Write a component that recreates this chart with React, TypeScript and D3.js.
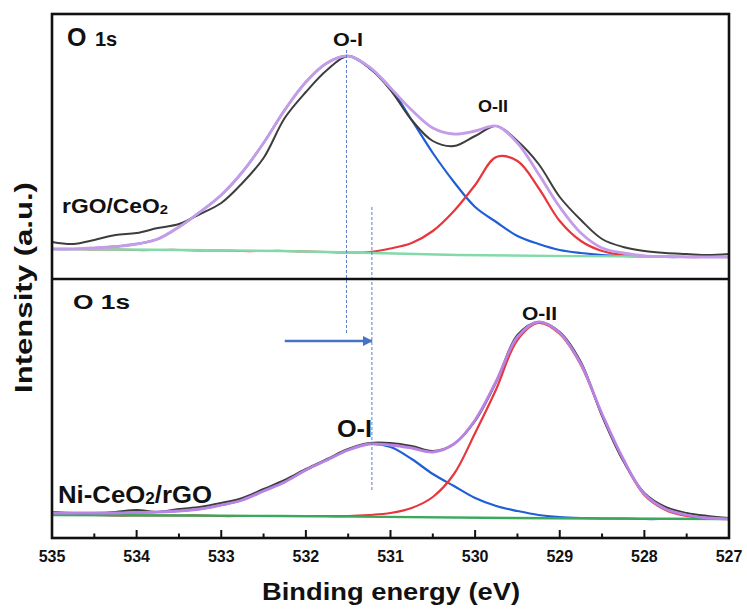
import React from "react";
import * as d3 from "d3";

// binding energy grid (eV) the curves were read on
const be = [
  535, 534.75, 534.5, 534.25, 534, 533.75, 533.5, 533.25, 533, 532.75, 532.5,
  532.25, 532, 531.75, 531.5, 531.25, 531, 530.75, 530.5, 530.25, 530,
  529.75, 529.5, 529.25, 529, 528.75, 528.5, 528.25, 528, 527.75, 527.5,
  527.25, 527,
];

// rGO/CeO2 (top panel), a.u.
const topRaw = [37, 35, 39, 44, 46, 51, 55, 65, 76, 96, 121, 161, 187, 209, 223, 211, 189, 159, 138, 133, 143, 153, 138, 115, 82, 59, 40, 32, 28, 26, 25, 24, 25];
const topEnvelope = [30, 30, 31, 32.5, 35, 40, 52, 67, 84, 107, 136, 169, 197, 216, 223, 212, 191, 169, 151, 145, 148, 153, 136, 105, 72, 46, 31, 26, 23, 22.5, 22, 22, 22];
const topOI = [30, 30, 31, 32.5, 35, 40, 52, 67, 84, 107, 136, 169, 197, 216, 223, 211, 191, 159, 126, 97, 72, 57, 43, 35, 29, 26, 24, 23, 22.5, 22, 22, 22, 22];
const topOII = [30, 30, 29.5, 29.5, 29, 29, 29, 28.5, 28.5, 28, 28, 28, 27.5, 27, 26.5, 27, 30.5, 36, 48, 68, 94, 122, 118, 91, 58, 38, 28, 24, 23, 22.5, 22, 22, 22];
const topBaseBE = [535, 532.3, 530.2, 527];
const topBase = [30, 28, 24, 22];

// Ni-CeO2/rGO (bottom panel), a.u.
const botRaw = [26, 25, 25, 26, 28, 26, 29, 31, 35, 40, 49, 58, 69, 79, 89, 95, 95, 92, 87, 94, 117, 156, 203, 216, 206, 176, 122, 77, 45, 31, 25, 22, 20];
const botEnvelope = [25, 25, 25, 25, 25.5, 26, 27, 29, 33, 38, 47, 56, 68, 78, 88, 94, 93, 90, 86, 94, 118, 157, 201, 216, 205, 174, 124, 79, 44, 29, 23, 20, 19];
const botOI = [25, 25, 25, 25, 25.5, 26, 27, 29, 33, 38, 47, 56, 68, 78, 88, 94, 91, 79, 64, 52, 40, 32, 27, 23, 21, 20, 19.5, 19.5, 19, 19, 19, 19, 19];
const botOII = [23, 23, 23, 22.5, 22.5, 22.5, 22.5, 22.5, 22, 22, 22, 22, 22, 22, 22, 23, 25, 30, 41, 64, 105, 149, 198, 215, 204, 173, 123, 78, 43, 28, 22, 20, 19];
const botBaseBE = [535, 532.3, 529.6, 527];
const botBase = [23, 22, 20, 19];

const xTicks = [535, 534, 533, 532, 531, 530, 529, 528, 527];
const xMinor = [534.5, 533.5, 532.5, 531.5, 530.5, 529.5, 528.5, 527.5];

// peak positions (eV)
const oiTop = 531.52;
const oiBot = 531.22;

const W = 747;
const H = 610;
const L = 52, R = 729, T = 14, MID = 279, B = 538;
const FONT = "'Liberation Sans', Arial, Helvetica, sans-serif";

const x = d3.scaleLinear().domain([535, 527]).range([L, R]);
const yTop = d3.scaleLinear().domain([0, MID - T]).range([MID, T]);
const yBot = d3.scaleLinear().domain([0, B - MID]).range([B, MID]);

function path(xs: number[], ys: number[], y: d3.ScaleLinear<number, number>) {
  const line = d3
    .line<number>()
    .x((_, i) => x(xs[i]))
    .y((d) => y(d))
    .curve(d3.curveCatmullRom.alpha(0.5));
  return line(ys) || "";
}

function Panel({ raw, env, oi, oii, baseBE, base, y, clip, green, purple }: any) {
  return (
    <g clipPath={`url(#${clip})`} fill="none" strokeLinejoin="round">
      <path d={path(be, oi, y)} stroke="#1f5fd6" strokeWidth={2.2} />
      <path d={path(be, oii, y)} stroke="#e8373c" strokeWidth={2.2} />
      <path d={path(baseBE, base, y)} stroke={green} strokeWidth={2.4} />
      <path d={path(be, raw, y)} stroke="#3d3d3d" strokeWidth={2} />
      <path d={path(be, env, y)} stroke={purple} strokeWidth={2.8} />
    </g>
  );
}

export default function App() {
  return (
    <svg
      width={W}
      height={H}
      style={{ position: "absolute", left: 0, top: 0, background: "#fff" }}
      fontFamily={FONT}
      fontWeight="bold"
    >
      <defs>
        <clipPath id="clipTop">
          <rect x={L} y={T} width={R - L} height={MID - T} />
        </clipPath>
        <clipPath id="clipBot">
          <rect x={L} y={MID} width={R - L} height={B - MID} />
        </clipPath>
        <marker id="arrow" viewBox="0 0 10 10" refX={9} refY={5} markerWidth={4} markerHeight={4} orient="auto">
          <path d="M0,0 L10,5 L0,10 z" fill="#4472c4" />
        </marker>
      </defs>

      <Panel raw={topRaw} env={topEnvelope} oi={topOI} oii={topOII} baseBE={topBaseBE} base={topBase}
        y={yTop} clip="clipTop" green="#82d9a9" purple="#c49ce8" />
      <Panel raw={botRaw} env={botEnvelope} oi={botOI} oii={botOII} baseBE={botBaseBE} base={botBase}
        y={yBot} clip="clipBot" green="#3aa95e" purple="#b883e2" />

      {/* dashed guide lines */}
      <line x1={x(oiTop)} x2={x(oiTop)} y1={yTop(229)} y2={yBot(205)}
        stroke="#5a7fd0" strokeWidth={1} strokeDasharray="3,2" />
      <line x1={x(oiBot)} x2={x(oiBot)} y1={yTop(72)} y2={yBot(48)}
        stroke="#5a7fd0" strokeWidth={1} strokeDasharray="3,2" />

      {/* shift arrow */}
      <line x1={x(532.25)} x2={x(oiBot)} y1={yBot(197)} y2={yBot(197)}
        stroke="#4472c4" strokeWidth={2.6} markerEnd="url(#arrow)" />

      {/* frame */}
      <rect x={L} y={T} width={R - L} height={B - T} fill="none" stroke="#111" strokeWidth={2.6} />
      <line x1={L} x2={R} y1={MID} y2={MID} stroke="#111" strokeWidth={2.6} />

      {/* x axis ticks */}
      {xTicks.map((t) => (
        <g key={t}>
          <line x1={x(t)} x2={x(t)} y1={B} y2={B - 8} stroke="#111" strokeWidth={2} />
          <text x={x(t)} y={562} fontSize={16} textAnchor="middle" fill="#111">{t}</text>
        </g>
      ))}
      {xMinor.map((t) => (
        <line key={t} x1={x(t)} x2={x(t)} y1={B} y2={B - 4.5} stroke="#111" strokeWidth={2} />
      ))}

      {/* axis titles */}
      <text x={262} y={600} fontSize={24} fill="#111" textLength={258} lengthAdjust="spacingAndGlyphs">
        Binding energy (eV)
      </text>
      <text transform="translate(32,393) rotate(-90)" fontSize={24} fill="#111" textLength={211}
        lengthAdjust="spacingAndGlyphs">
        Intensity (a.u.)
      </text>

      {/* panel labels */}
      <text x={67} y={46} fill="#111">
        <tspan fontSize={25}>O</tspan>
        <tspan x={95} fontSize={20}>1s</tspan>
      </text>
      <text x={333} y={46} fontSize={18} fill="#111" textLength={30} lengthAdjust="spacingAndGlyphs">O-I</text>
      <text x={478} y={112} fontSize={17} fill="#111" textLength={30} lengthAdjust="spacingAndGlyphs">O-II</text>
      <text x={62} y={213} fontSize={20} fill="#111" textLength={106} lengthAdjust="spacingAndGlyphs">
        rGO/CeO<tspan fontSize={13} dy={1}>2</tspan>
      </text>

      <text x={73} y={309} fontSize={20} fill="#111" textLength={57} lengthAdjust="spacingAndGlyphs">O 1s</text>
      <text x={337} y={437} fontSize={24} fill="#111" textLength={35} lengthAdjust="spacingAndGlyphs">O-I</text>
      <text x={522} y={320} fontSize={18} fill="#111" textLength={35} lengthAdjust="spacingAndGlyphs">O-II</text>
      <text x={58} y={503} fontSize={24} fill="#111" textLength={154} lengthAdjust="spacingAndGlyphs">
        Ni-CeO<tspan fontSize={16} dy={1}>2</tspan><tspan dy={-1}>/rGO</tspan>
      </text>
    </svg>
  );
}
